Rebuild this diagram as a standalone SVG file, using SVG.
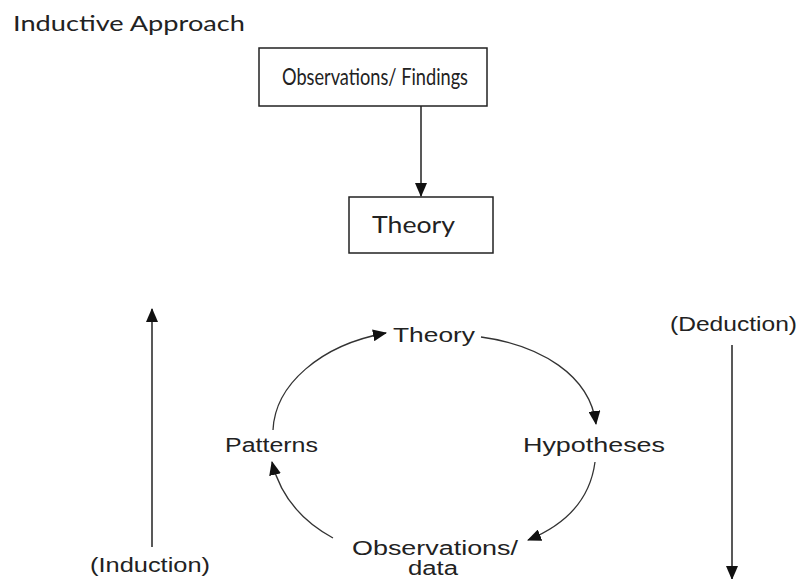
<svg xmlns="http://www.w3.org/2000/svg" width="801" height="579" viewBox="0 0 801 579">
<style>
.seg{font-family:Lato,"Open Sans","Noto Sans",sans-serif;font-size:22px;fill:#222}
.big{font-size:23.5px}
.ar{font-family:"Liberation Sans",Arial,sans-serif;font-size:20px;fill:#222}
.box{fill:#fff;stroke:#222;stroke-width:1.5}
.ln{fill:none;stroke:#222;stroke-width:1.5}
.cv{fill:none;stroke:#333;stroke-width:1.3}
</style>
<defs>
<marker id="ah" markerUnits="userSpaceOnUse" markerWidth="14" markerHeight="12" viewBox="0 0 14 12" refX="13" refY="6" orient="auto">
<path d="M0,0 L14,6 L0,12 Z" fill="#111"/>
</marker>
</defs>
<rect width="801" height="579" fill="#fff"/>
<text class="seg" x="13" y="31" textLength="232" lengthAdjust="spacingAndGlyphs">Inductive Approach</text>
<g id="obs-findings">
<rect class="box" x="259" y="48" width="228" height="58"/>
<text class="seg big" x="282" y="85" textLength="186" lengthAdjust="spacingAndGlyphs">Observations/ Findings</text>
</g>
<g id="theory-box">
<rect class="box" x="349" y="197" width="144" height="56"/>
<text class="seg big" x="372" y="233" textLength="83" lengthAdjust="spacingAndGlyphs">Theory</text>
</g>
<g id="theory"><text class="ar" x="393" y="342" textLength="82" lengthAdjust="spacingAndGlyphs">Theory</text></g>
<g id="patterns"><text class="ar" x="225" y="452" textLength="93" lengthAdjust="spacingAndGlyphs">Patterns</text></g>
<g id="hypotheses"><text class="ar" x="523" y="452" textLength="142" lengthAdjust="spacingAndGlyphs">Hypotheses</text></g>
<g id="observations-data">
<text class="ar" x="352" y="555" textLength="166" lengthAdjust="spacingAndGlyphs">Observations/</text>
<text class="ar" x="408" y="575" textLength="50" lengthAdjust="spacingAndGlyphs">data</text>
</g>
<g id="induction"><text class="ar" x="90" y="572" textLength="120" lengthAdjust="spacingAndGlyphs">(Induction)</text></g>
<g id="deduction"><text class="ar" x="670" y="331" textLength="127" lengthAdjust="spacingAndGlyphs">(Deduction)</text></g>
<g id="connectors">
<line class="ln" x1="421" y1="106" x2="421" y2="196" marker-end="url(#ah)"/>
<line class="ln" x1="152" y1="547" x2="152" y2="309" marker-end="url(#ah)"/>
<line class="ln" x1="732" y1="345" x2="732" y2="579" marker-end="url(#ah)"/>
<path class="cv" d="M273,430 C275,385 320,345 386,333" marker-end="url(#ah)"/>
<path class="cv" d="M481,337 C540,345 590,375 596,424" marker-end="url(#ah)"/>
<path class="cv" d="M595,462 C590,500 565,525 528,540" marker-end="url(#ah)"/>
<path class="cv" d="M333,538 C300,520 280,495 272,462" marker-end="url(#ah)"/>
</g>
</svg>
